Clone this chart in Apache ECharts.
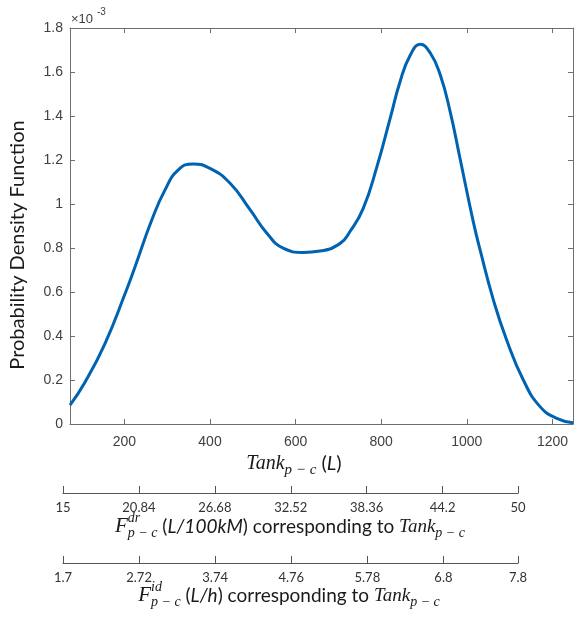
<!DOCTYPE html>
<html>
<head>
<meta charset="utf-8">
<script src="https://cdn.jsdelivr.net/npm/echarts@6/dist/echarts.min.js"></script>
<style>
  html, body {margin: 0; padding: 0; background: #fff;}
  #chart {width: 580px; height: 618px;}
</style>
</head>
<body>
<div id="chart"></div>
<script>
// tank volume (L) and density (x 10^-3)
const tankL = [73, 108, 155, 202, 225, 264, 295, 326, 361, 400, 447, 494, 533, 571, 618, 657, 704, 727, 758, 790, 821, 844, 868, 891, 915, 938, 961, 984, 1015, 1031, 1062, 1093, 1132, 1171, 1210, 1248]
const pdf = [0.086, 0.19, 0.367, 0.594, 0.715, 0.927, 1.064, 1.155, 1.182, 1.162, 1.094, 0.973, 0.867, 0.799, 0.78, 0.786, 0.821, 0.875, 0.98, 1.17, 1.39, 1.556, 1.677, 1.726, 1.685, 1.586, 1.42, 1.208, 0.92, 0.791, 0.564, 0.382, 0.2, 0.079, 0.026, 0.006]

const tankTicks = [200, 400, 600, 800, 1000, 1200]
const drTicks = [15, 20.84, 26.68, 32.52, 38.36, 44.2, 50]
const idTicks = [1.7, 2.72, 3.74, 4.76, 5.78, 6.8, 7.8]

const X_MIN = 73
const X_MAX = 1248

const AX = '#6e6e6e'
const LBL = '#404040'
const SANS = 'Liberation Sans'
const SERIF = '"Liberation Serif"'
const CAL = 'Lato'

const ctx = document.createElement('canvas').getContext('2d')

/** @param {*} p */
function fontOf(p) {
  return `${p.italic ? 'italic ' : ''}${p.size}px ${p.fam}`
}

/**
 * 一行数学标签，按基线排版
 * @param {number} cx
 * @param {number} base
 * @param {Array<*>} parts
 */
function mathLine(cx, base, parts) {
  let x = 0
  let start = 0
  const items = parts.map(p => {
    ctx.font = fontOf(p)
    const w = ctx.measureText(p.t).width
    const s = p.under ? start : x
    if (!p.under) start = s
    x = Math.max(x, s + w)
    return {...p, x: s}
  })
  const left = cx - x / 2
  return items.map(p => ({
    type: 'text',
    x: left + p.x,
    y: base + (p.dy || 0) - 0.3 * p.size,
    style: {text: p.t, font: fontOf(p), fill: '#1a1a1a', align: 'left', verticalAlign: 'middle'},
  }))
}

const serif = (t, size, dy, under) => ({t, size, dy, under, fam: SERIF, italic: true})
const cal = (t, size, italic) => ({t, size, fam: CAL, italic})

const graphic = [
  {type: 'text', x: 71, y: 19, style: {text: '×10', font: `13px ${SANS}`, fill: LBL, verticalAlign: 'middle'}},
  {type: 'text', x: 97, y: 12, style: {text: '-3', font: `10px ${SANS}`, fill: LBL, verticalAlign: 'middle'}},
  {
    type: 'text',
    x: 18,
    y: 245,
    rotation: Math.PI / 2,
    style: {text: 'Probability Density Function', font: `20px ${CAL}`, fill: '#1a1a1a', align: 'center', verticalAlign: 'middle'},
  },
  ...mathLine(294, 469.5, [serif('Tank', 20, 0), serif('p − c', 15, 5), cal(' (', 20), cal('L', 20, true), cal(')', 20)]),
  ...mathLine(290, 532.5, [
    serif('F', 21, 0),
    serif('dr', 14, -10),
    serif('p − c', 14, 5, true),
    cal(' (', 19),
    cal('L/100kM', 19, true),
    cal(') corresponding to ', 19),
    serif('Tank', 19, 0),
    serif('p − c', 14, 5),
  ]),
  ...mathLine(289, 601.5, [
    serif('F', 21, 0),
    serif('id', 14, -10),
    serif('p − c', 14, 5, true),
    cal(' (', 19),
    cal('L/h', 19, true),
    cal(') corresponding to ', 19),
    serif('Tank', 19, 0),
    serif('p − c', 14, 5),
  ]),
]

const boxTick = {inside: true, length: 5, lineStyle: {color: AX}}

/** @param {number} grid @param {number} min @param {number} max @param {number[]} ticks */
function extraAxis(grid, min, max, ticks) {
  return {
    type: 'value',
    gridIndex: grid,
    position: 'bottom',
    min,
    max,
    axisLine: {onZero: false, lineStyle: {color: '#555'}},
    axisTick: {inside: true, length: 7, customValues: ticks, lineStyle: {color: '#555'}},
    axisLabel: {customValues: ticks, margin: 8, fontSize: 13, fontFamily: CAL, color: '#333', formatter: v => `${v}`},
    splitLine: {show: false},
  }
}

const chart = echarts.init(document.getElementById('chart'), null, {renderer: 'canvas'})

const option = {
  animation: false,
  grid: [
    {left: 70, top: 28, width: 503, height: 396},
    {left: 63, top: 492, width: 455, height: 1},
    {left: 63, top: 562, width: 455, height: 1},
  ],
  xAxis: [
    {
      type: 'value',
      gridIndex: 0,
      position: 'bottom',
      min: X_MIN,
      max: X_MAX,
      axisLine: {onZero: false, lineStyle: {color: AX}},
      axisTick: {...boxTick, customValues: tankTicks},
      axisLabel: {customValues: tankTicks, margin: 11, fontSize: 14, fontFamily: SANS, color: LBL, formatter: v => `${v}`},
      splitLine: {show: false},
    },
    {
      type: 'value',
      gridIndex: 0,
      position: 'top',
      min: X_MIN,
      max: X_MAX,
      axisLine: {onZero: false, lineStyle: {color: AX}},
      axisTick: {...boxTick, customValues: tankTicks},
      axisLabel: {show: false},
      splitLine: {show: false},
    },
    extraAxis(1, 15, 50, drTicks),
    extraAxis(2, 1.7, 7.8, idTicks),
  ],
  yAxis: [
    {
      type: 'value',
      gridIndex: 0,
      position: 'left',
      min: 0,
      max: 1.8,
      interval: 0.2,
      axisLine: {show: true, onZero: false, lineStyle: {color: AX}},
      axisTick: boxTick,
      axisLabel: {margin: 7, fontSize: 14, fontFamily: SANS, color: LBL},
      splitLine: {show: false},
    },
    {
      type: 'value',
      gridIndex: 0,
      position: 'right',
      min: 0,
      max: 1.8,
      interval: 0.2,
      axisLine: {show: true, onZero: false, lineStyle: {color: AX}},
      axisTick: boxTick,
      axisLabel: {show: false},
      splitLine: {show: false},
    },
    {type: 'value', gridIndex: 1, min: 0, max: 1, show: false},
    {type: 'value', gridIndex: 2, min: 0, max: 1, show: false},
  ],
  series: [
    {
      type: 'line',
      xAxisIndex: 0,
      yAxisIndex: 0,
      data: tankL.map((x, i) => [x, pdf[i]]),
      smooth: true,
      showSymbol: false,
      clip: true,
      lineStyle: {width: 3, color: '#0063b1'},
    },
  ],
  graphic,
}

chart.setOption(option)
</script>
</body>
</html>
